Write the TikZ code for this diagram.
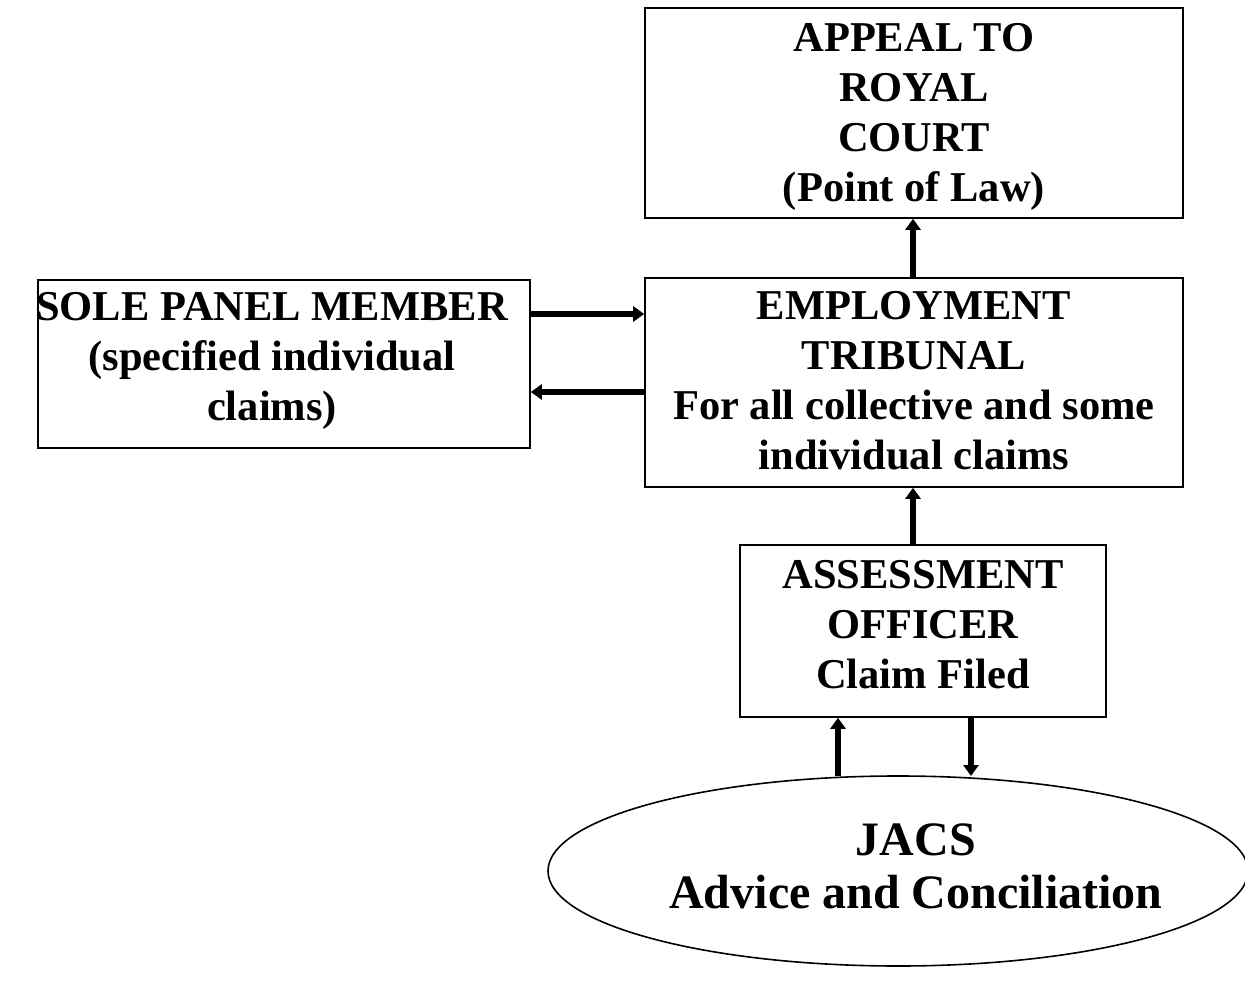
\documentclass[tikz,border=0pt]{standalone}
\usepackage{fontspec}
\setmainfont{Liberation Serif}
\usetikzlibrary{arrows.meta,shapes.geometric}
\begin{document}
\begin{tikzpicture}[x=1pt,y=-1pt,
  box/.style={draw,line width=1.6pt,inner sep=0pt},
  arr/.style={line width=5.5pt,-{Triangle[length=11pt,width=15pt]}},
  lbl/.style={align=center,font=\fontsize{42.5}{50}\selectfont\bfseries}]
\useasboundingbox (0,0) rectangle (1245,984);
\node[box,minimum width=538pt,minimum height=210pt] (appeal) at (914,113) {};
\node[lbl] (appealtxt) at (914,117) {APPEAL TO\\ROYAL\\COURT\\(Point of Law)};
\node[box,minimum width=538pt,minimum height=209pt] (emp) at (914,382.5) {};
\node[lbl] (emptxt) at (914,381) {EMPLOYMENT\\TRIBUNAL\\For all collective and some\\individual claims};
\node[box,minimum width=492pt,minimum height=168pt] (sole) at (284,364) {};
\node[lbl] (soletxt) at (272,361) {SOLE PANEL MEMBER\\(specified individual\\claims)};
\node[box,minimum width=366pt,minimum height=172pt] (ass) at (923,631) {};
\node[lbl] (asstxt) at (923,625) {ASSESSMENT\\OFFICER\\Claim Filed};
\node[draw,ellipse,line width=1.6pt,minimum width=700pt,minimum height=190pt,inner sep=0pt] (jacs) at (898,871) {};
\node[lbl,font=\fontsize{48}{53}\selectfont\bfseries] (jacstxt) at (916,866) {JACS\\Advice and Conciliation};
\draw[arr] (emp.north -| 913,0) -- (appeal.south -| 913,0);
\draw[arr] (sole.east |- 0,314) -- (emp.west |- 0,314);
\draw[arr] (emp.west |- 0,392) -- (sole.east |- 0,392);
\draw[arr] (ass.north -| 913,0) -- (emp.south -| 913,0);
\draw[arr] (838,776) -- (ass.south -| 838,0);
\draw[arr] (ass.south -| 971,0) -- (971,776);
\end{tikzpicture}
\end{document}
